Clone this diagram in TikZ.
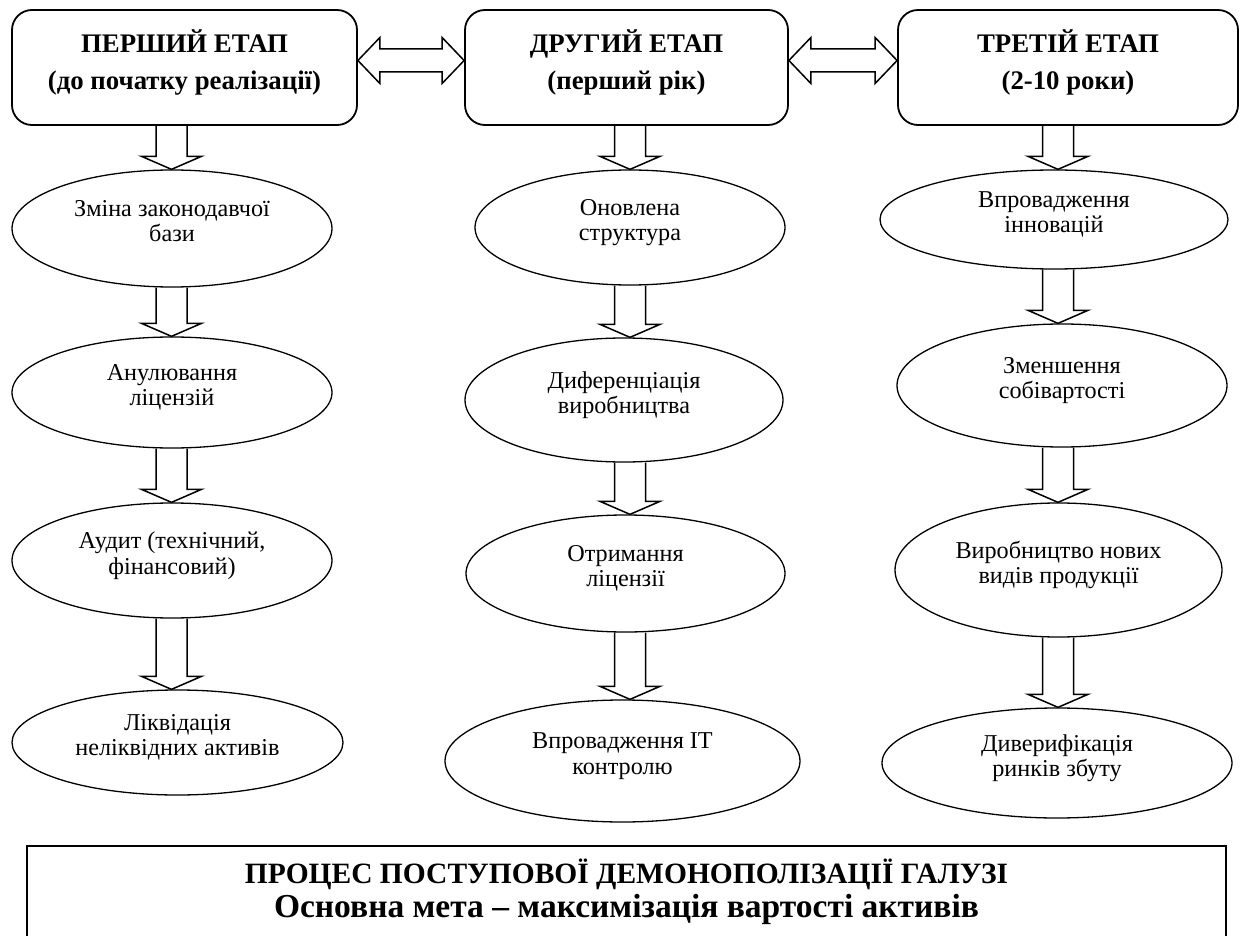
\documentclass[tikz,border=0pt]{standalone}
\usepackage{fontspec}
\setmainfont{Liberation Serif}
\usetikzlibrary{shapes.geometric,calc}

\newcommand\blockdown[3]{%
  \draw[blockarrow] ($(#3 |- #1.south)+(-15.5,0)$) -- ($(#3 |- #2.north)+(-15.5,-13)$) -- ($(#3 |- #2.north)+(-30,-13)$) -- (#3 |- #2.north) -- ($(#3 |- #2.north)+(30,-13)$) -- ($(#3 |- #2.north)+(15.5,-13)$) -- ($(#3 |- #1.south)+(15.5,0)$);}

\newcommand\blockboth[3]{%
  \draw[blockarrow] (#1.east |- #3) -- ($(#1.east |- #3)+(22,-23)$) -- ($(#1.east |- #3)+(22,-11.5)$) -- ($(#2.west |- #3)+(-22,-11.5)$) -- ($(#2.west |- #3)+(-22,-23)$) -- (#2.west |- #3) -- ($(#2.west |- #3)+(-22,23)$) -- ($(#2.west |- #3)+(-22,11.5)$) -- ($(#1.east |- #3)+(22,11.5)$) -- ($(#1.east |- #3)+(22,23)$) -- cycle;}

\begin{document}
\begin{tikzpicture}[x=1pt,y=-1pt,
  stagebox/.style={draw, line width=1.8pt, rounded corners=20pt, inner sep=0pt, align=center,
    minimum height=115pt, font=\bfseries\fontsize{26.8}{37}\selectfont,
    execute at begin node={\rule{0pt}{22pt}}, execute at end node={\rule[-16pt]{0pt}{16pt}}},
  stepell/.style={draw, ellipse, line width=1.3pt, inner sep=0pt, align=center,
    font=\fontsize{24.2}{25.5}\selectfont,
    execute at begin node={\rule{0pt}{20pt}}, execute at end node={\rule[-15pt]{0pt}{15pt}}},
  blockarrow/.style={draw, line width=1.5pt, line join=miter},
  goalbox/.style={draw, line width=1.8pt, inner sep=0pt},
]
\path[fill=white] (0,0) rectangle (1243,936);
\useasboundingbox (0,0) rectangle (1243,936);

\coordinate (hrow) at (0,60.5);
\coordinate (colA) at (171.5,0);
\coordinate (colB) at (630,0);
\coordinate (colC) at (1058,0);

% stage boxes
\node[stagebox, minimum width=345pt] (s1) at (184.5,67.5) {ПЕРШИЙ ЕТАП\\(до початку реалізації)};
\node[stagebox, minimum width=323pt] (s2) at (626.5,67.5) {ДРУГИЙ ЕТАП\\(перший рік)};
\node[stagebox, minimum width=340pt] (s3) at (1068,67.5) {ТРЕТІЙ ЕТАП\\(2-10 роки)};

% column 1
\node[stepell, minimum width=320pt, minimum height=117pt] (a1) at (172,228.5) {Зміна законодавчої\\бази};
\node[stepell, minimum width=320pt, minimum height=111pt] (a2) at (172,392.5) {Анулювання\\ліцензій};
\node[stepell, minimum width=320pt, minimum height=115pt] (a3) at (172,560.5) {Аудит (технічний,\\фінансовий)};
\node[stepell, minimum width=331pt, minimum height=105pt] (a4) at (177.5,742.5) {Ліквідація\\неліквідних активів};

% column 2
\node[stepell, minimum width=310pt, minimum height=115pt] (b1) at (630,227.5) {Оновлена\\структура};
\node[stepell, minimum width=318pt, minimum height=124pt] (b2) at (624,400) {Диференціація\\виробництва};
\node[stepell, minimum width=319pt, minimum height=117pt] (b3) at (625.5,573.5) {Отримання\\ліцензії};
\node[stepell, minimum width=355pt, minimum height=122pt] (b4) at (622.5,761) {Впровадження IT\\контролю};

% column 3
\node[stepell, minimum width=348pt, minimum height=99pt] (c1) at (1054,219.5) {Впровадження\\інновацій};
\node[stepell, minimum width=330pt, minimum height=123pt] (c2) at (1062,385.5) {Зменшення\\собівартості};
\node[stepell, minimum width=327pt, minimum height=134pt] (c3) at (1058.5,570) {Виробництво нових\\видів продукції};
\node[stepell, minimum width=350pt, minimum height=110pt] (c4) at (1057,763) {Диверифікація\\ринків збуту};

% bottom goal box
\node[goalbox, minimum width=1199pt, minimum height=95pt, anchor=north] (goal) at (626.5,845) {};
\node[anchor=base, inner sep=0pt, font=\bfseries\fontsize{29.5}{34}\selectfont] (goaltitle) at (626.5,883) {ПРОЦЕС ПОСТУПОВОЇ ДЕМОНОПОЛІЗАЦІЇ ГАЛУЗІ};
\node[anchor=base, inner sep=0pt, font=\bfseries\fontsize{33.5}{34}\selectfont] (goalsub) at (626.5,917) {Основна мета – максимізація вартості активів};

% horizontal double arrows
\blockboth{s1}{s2}{hrow}
\blockboth{s2}{s3}{hrow}

% vertical block arrows
\blockdown{s1}{a1}{colA}
\blockdown{a1}{a2}{colA}
\blockdown{a2}{a3}{colA}
\blockdown{a3}{a4}{colA}

\blockdown{s2}{b1}{colB}
\blockdown{b1}{b2}{colB}
\blockdown{b2}{b3}{colB}
\blockdown{b3}{b4}{colB}

\blockdown{s3}{c1}{colC}
\blockdown{c1}{c2}{colC}
\blockdown{c2}{c3}{colC}
\blockdown{c3}{c4}{colC}
\end{tikzpicture}
\end{document}
